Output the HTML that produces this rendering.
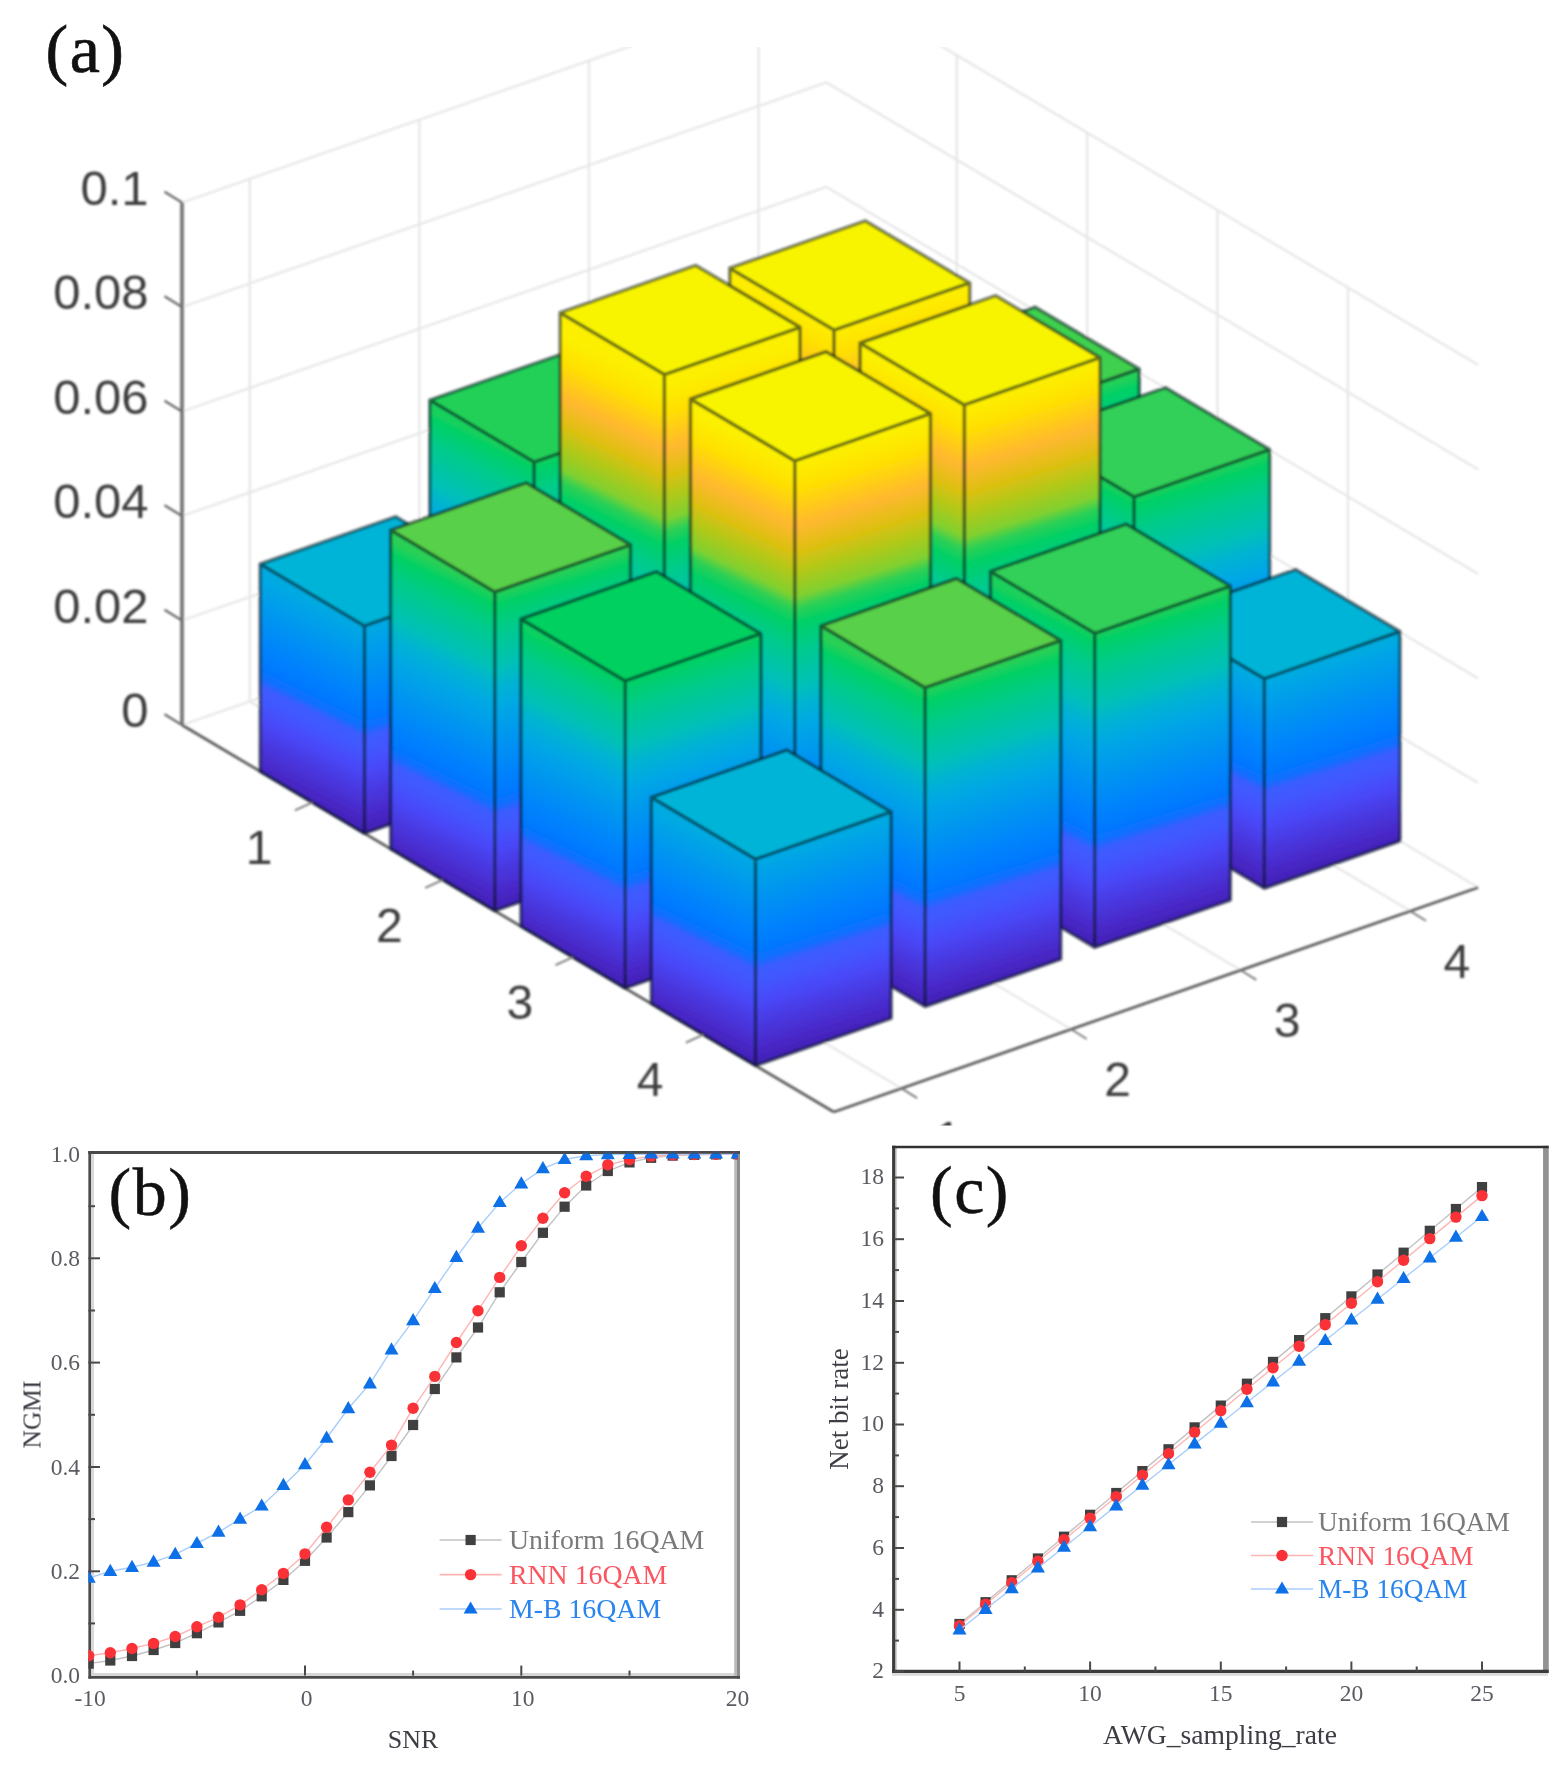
<!DOCTYPE html>
<html lang="en"><head><meta charset="utf-8"><title>Figure</title>
<style>
html,body{margin:0;padding:0;background:#fff}
body{width:1564px;height:1771px;overflow:hidden}
svg{display:block}
</style></head><body>
<svg width="1564" height="1771" viewBox="0 0 1564 1771">
<defs>
<linearGradient id="g1" gradientUnits="userSpaceOnUse" x1="873.3" y1="656.1" x2="955.9" y2="487.5"><stop offset="0%" stop-color="#4120b4"/><stop offset="8.3%" stop-color="#4828c8"/><stop offset="19.2%" stop-color="#4a38e0"/><stop offset="29.8%" stop-color="#4848f8"/><stop offset="40.1%" stop-color="#4258ff"/><stop offset="45.9%" stop-color="#3c5cff"/><stop offset="50.6%" stop-color="#0e70ff"/><stop offset="55.5%" stop-color="#0078ff"/><stop offset="66%" stop-color="#0084fc"/><stop offset="76.5%" stop-color="#0090f4"/><stop offset="86.8%" stop-color="#009cec"/><stop offset="97.1%" stop-color="#00a8e4"/><stop offset="100%" stop-color="#00abde"/></linearGradient>
<linearGradient id="g2" gradientUnits="userSpaceOnUse" x1="873.3" y1="656.1" x2="814.2" y2="465.4"><stop offset="0%" stop-color="#4120b4"/><stop offset="8.3%" stop-color="#4828c8"/><stop offset="19.2%" stop-color="#4a38e0"/><stop offset="29.8%" stop-color="#4848f8"/><stop offset="40.1%" stop-color="#4258ff"/><stop offset="45.9%" stop-color="#3c5cff"/><stop offset="50.6%" stop-color="#0e70ff"/><stop offset="55.5%" stop-color="#0078ff"/><stop offset="66%" stop-color="#0084fc"/><stop offset="76.5%" stop-color="#0090f4"/><stop offset="86.8%" stop-color="#009cec"/><stop offset="97.1%" stop-color="#00a8e4"/><stop offset="100%" stop-color="#00abde"/></linearGradient>
<linearGradient id="g3" gradientUnits="userSpaceOnUse" x1="703.7" y1="715.2" x2="827.6" y2="462.4"><stop offset="0%" stop-color="#4120b4"/><stop offset="5.5%" stop-color="#4828c8"/><stop offset="12.8%" stop-color="#4a38e0"/><stop offset="19.8%" stop-color="#4848f8"/><stop offset="26.7%" stop-color="#4258ff"/><stop offset="30.6%" stop-color="#3c5cff"/><stop offset="33.7%" stop-color="#0e70ff"/><stop offset="37%" stop-color="#0078ff"/><stop offset="44%" stop-color="#0084fc"/><stop offset="51%" stop-color="#0090f4"/><stop offset="57.9%" stop-color="#009cec"/><stop offset="64.7%" stop-color="#00a8e4"/><stop offset="71.7%" stop-color="#00b4d0"/><stop offset="77%" stop-color="#00c0b8"/><stop offset="89.5%" stop-color="#00cb8a"/><stop offset="97.7%" stop-color="#04d064"/><stop offset="100%" stop-color="#1bd05c"/></linearGradient>
<linearGradient id="g4" gradientUnits="userSpaceOnUse" x1="703.7" y1="715.2" x2="615" y2="429.1"><stop offset="0%" stop-color="#4120b4"/><stop offset="5.5%" stop-color="#4828c8"/><stop offset="12.8%" stop-color="#4a38e0"/><stop offset="19.8%" stop-color="#4848f8"/><stop offset="26.7%" stop-color="#4258ff"/><stop offset="30.6%" stop-color="#3c5cff"/><stop offset="33.7%" stop-color="#0e70ff"/><stop offset="37%" stop-color="#0078ff"/><stop offset="44%" stop-color="#0084fc"/><stop offset="51%" stop-color="#0090f4"/><stop offset="57.9%" stop-color="#009cec"/><stop offset="64.7%" stop-color="#00a8e4"/><stop offset="71.7%" stop-color="#00b4d0"/><stop offset="77%" stop-color="#00c0b8"/><stop offset="89.5%" stop-color="#00cb8a"/><stop offset="97.7%" stop-color="#04d064"/><stop offset="100%" stop-color="#1bd05c"/></linearGradient>
<linearGradient id="g5" gradientUnits="userSpaceOnUse" x1="534.1" y1="774.3" x2="657.4" y2="522.5"><stop offset="0%" stop-color="#4120b4"/><stop offset="5.5%" stop-color="#4828c8"/><stop offset="12.9%" stop-color="#4a38e0"/><stop offset="19.9%" stop-color="#4848f8"/><stop offset="26.8%" stop-color="#4258ff"/><stop offset="30.7%" stop-color="#3c5cff"/><stop offset="33.9%" stop-color="#0e70ff"/><stop offset="37.1%" stop-color="#0078ff"/><stop offset="44.2%" stop-color="#0084fc"/><stop offset="51.2%" stop-color="#0090f4"/><stop offset="58.1%" stop-color="#009cec"/><stop offset="65%" stop-color="#00a8e4"/><stop offset="72%" stop-color="#00b4d0"/><stop offset="77.3%" stop-color="#00c0b8"/><stop offset="89.9%" stop-color="#00cb8a"/><stop offset="98.1%" stop-color="#04d064"/><stop offset="100%" stop-color="#16d05d"/></linearGradient>
<linearGradient id="g6" gradientUnits="userSpaceOnUse" x1="534.1" y1="774.3" x2="445.8" y2="489.4"><stop offset="0%" stop-color="#4120b4"/><stop offset="5.5%" stop-color="#4828c8"/><stop offset="12.9%" stop-color="#4a38e0"/><stop offset="19.9%" stop-color="#4848f8"/><stop offset="26.8%" stop-color="#4258ff"/><stop offset="30.7%" stop-color="#3c5cff"/><stop offset="33.9%" stop-color="#0e70ff"/><stop offset="37.1%" stop-color="#0078ff"/><stop offset="44.2%" stop-color="#0084fc"/><stop offset="51.2%" stop-color="#0090f4"/><stop offset="58.1%" stop-color="#009cec"/><stop offset="65%" stop-color="#00a8e4"/><stop offset="72%" stop-color="#00b4d0"/><stop offset="77.3%" stop-color="#00c0b8"/><stop offset="89.9%" stop-color="#00cb8a"/><stop offset="98.1%" stop-color="#04d064"/><stop offset="100%" stop-color="#16d05d"/></linearGradient>
<linearGradient id="g7" gradientUnits="userSpaceOnUse" x1="364.5" y1="833.4" x2="446.5" y2="666.1"><stop offset="0%" stop-color="#4120b4"/><stop offset="8.3%" stop-color="#4828c8"/><stop offset="19.4%" stop-color="#4a38e0"/><stop offset="30%" stop-color="#4848f8"/><stop offset="40.4%" stop-color="#4258ff"/><stop offset="46.2%" stop-color="#3c5cff"/><stop offset="50.9%" stop-color="#0e70ff"/><stop offset="55.9%" stop-color="#0078ff"/><stop offset="66.5%" stop-color="#0084fc"/><stop offset="77.1%" stop-color="#0090f4"/><stop offset="87.5%" stop-color="#009cec"/><stop offset="97.8%" stop-color="#00a8e4"/><stop offset="100%" stop-color="#00aae0"/></linearGradient>
<linearGradient id="g8" gradientUnits="userSpaceOnUse" x1="364.5" y1="833.4" x2="305.8" y2="644.1"><stop offset="0%" stop-color="#4120b4"/><stop offset="8.3%" stop-color="#4828c8"/><stop offset="19.4%" stop-color="#4a38e0"/><stop offset="30%" stop-color="#4848f8"/><stop offset="40.4%" stop-color="#4258ff"/><stop offset="46.2%" stop-color="#3c5cff"/><stop offset="50.9%" stop-color="#0e70ff"/><stop offset="55.9%" stop-color="#0078ff"/><stop offset="66.5%" stop-color="#0084fc"/><stop offset="77.1%" stop-color="#0090f4"/><stop offset="87.5%" stop-color="#009cec"/><stop offset="97.8%" stop-color="#00a8e4"/><stop offset="100%" stop-color="#00aae0"/></linearGradient>
<linearGradient id="g9" gradientUnits="userSpaceOnUse" x1="1003.6" y1="733.5" x2="1129" y2="477.7"><stop offset="0%" stop-color="#4120b4"/><stop offset="5.5%" stop-color="#4828c8"/><stop offset="12.7%" stop-color="#4a38e0"/><stop offset="19.6%" stop-color="#4848f8"/><stop offset="26.4%" stop-color="#4258ff"/><stop offset="30.2%" stop-color="#3c5cff"/><stop offset="33.3%" stop-color="#0e70ff"/><stop offset="36.6%" stop-color="#0078ff"/><stop offset="43.5%" stop-color="#0084fc"/><stop offset="50.4%" stop-color="#0090f4"/><stop offset="57.2%" stop-color="#009cec"/><stop offset="64%" stop-color="#00a8e4"/><stop offset="70.9%" stop-color="#00b4d0"/><stop offset="76.1%" stop-color="#00c0b8"/><stop offset="88.5%" stop-color="#00cb8a"/><stop offset="96.6%" stop-color="#04d064"/><stop offset="100%" stop-color="#26d058"/></linearGradient>
<linearGradient id="g10" gradientUnits="userSpaceOnUse" x1="1003.6" y1="733.5" x2="913.9" y2="444.1"><stop offset="0%" stop-color="#4120b4"/><stop offset="5.5%" stop-color="#4828c8"/><stop offset="12.7%" stop-color="#4a38e0"/><stop offset="19.6%" stop-color="#4848f8"/><stop offset="26.4%" stop-color="#4258ff"/><stop offset="30.2%" stop-color="#3c5cff"/><stop offset="33.3%" stop-color="#0e70ff"/><stop offset="36.6%" stop-color="#0078ff"/><stop offset="43.5%" stop-color="#0084fc"/><stop offset="50.4%" stop-color="#0090f4"/><stop offset="57.2%" stop-color="#009cec"/><stop offset="64%" stop-color="#00a8e4"/><stop offset="70.9%" stop-color="#00b4d0"/><stop offset="76.1%" stop-color="#00c0b8"/><stop offset="88.5%" stop-color="#00cb8a"/><stop offset="96.6%" stop-color="#04d064"/><stop offset="100%" stop-color="#26d058"/></linearGradient>
<linearGradient id="g11" gradientUnits="userSpaceOnUse" x1="834" y1="792.6" x2="1016.8" y2="419.7"><stop offset="0%" stop-color="#4120b4"/><stop offset="3.7%" stop-color="#4828c8"/><stop offset="8.7%" stop-color="#4a38e0"/><stop offset="13.5%" stop-color="#4848f8"/><stop offset="18.1%" stop-color="#4258ff"/><stop offset="20.7%" stop-color="#3c5cff"/><stop offset="22.9%" stop-color="#0e70ff"/><stop offset="25.1%" stop-color="#0078ff"/><stop offset="29.8%" stop-color="#0084fc"/><stop offset="34.6%" stop-color="#0090f4"/><stop offset="39.2%" stop-color="#009cec"/><stop offset="43.9%" stop-color="#00a8e4"/><stop offset="48.6%" stop-color="#00b4d0"/><stop offset="52.2%" stop-color="#00c0b8"/><stop offset="60.7%" stop-color="#00cb8a"/><stop offset="66.2%" stop-color="#04d064"/><stop offset="69.3%" stop-color="#30d054"/><stop offset="71.8%" stop-color="#80d030"/><stop offset="77.2%" stop-color="#b4c818"/><stop offset="81.3%" stop-color="#dcc010"/><stop offset="87.1%" stop-color="#ffb830"/><stop offset="95.1%" stop-color="#ffe000"/><stop offset="100%" stop-color="#fded00"/></linearGradient>
<linearGradient id="g12" gradientUnits="userSpaceOnUse" x1="834" y1="792.6" x2="703.3" y2="370.7"><stop offset="0%" stop-color="#4120b4"/><stop offset="3.7%" stop-color="#4828c8"/><stop offset="8.7%" stop-color="#4a38e0"/><stop offset="13.5%" stop-color="#4848f8"/><stop offset="18.1%" stop-color="#4258ff"/><stop offset="20.7%" stop-color="#3c5cff"/><stop offset="22.9%" stop-color="#0e70ff"/><stop offset="25.1%" stop-color="#0078ff"/><stop offset="29.8%" stop-color="#0084fc"/><stop offset="34.6%" stop-color="#0090f4"/><stop offset="39.2%" stop-color="#009cec"/><stop offset="43.9%" stop-color="#00a8e4"/><stop offset="48.6%" stop-color="#00b4d0"/><stop offset="52.2%" stop-color="#00c0b8"/><stop offset="60.7%" stop-color="#00cb8a"/><stop offset="66.2%" stop-color="#04d064"/><stop offset="69.3%" stop-color="#30d054"/><stop offset="71.8%" stop-color="#80d030"/><stop offset="77.2%" stop-color="#b4c818"/><stop offset="81.3%" stop-color="#dcc010"/><stop offset="87.1%" stop-color="#ffb830"/><stop offset="95.1%" stop-color="#ffe000"/><stop offset="100%" stop-color="#fded00"/></linearGradient>
<linearGradient id="g13" gradientUnits="userSpaceOnUse" x1="664.4" y1="851.7" x2="852.9" y2="467"><stop offset="0%" stop-color="#4120b4"/><stop offset="3.6%" stop-color="#4828c8"/><stop offset="8.4%" stop-color="#4a38e0"/><stop offset="13%" stop-color="#4848f8"/><stop offset="17.5%" stop-color="#4258ff"/><stop offset="20.1%" stop-color="#3c5cff"/><stop offset="22.2%" stop-color="#0e70ff"/><stop offset="24.3%" stop-color="#0078ff"/><stop offset="28.9%" stop-color="#0084fc"/><stop offset="33.5%" stop-color="#0090f4"/><stop offset="38%" stop-color="#009cec"/><stop offset="42.5%" stop-color="#00a8e4"/><stop offset="47.2%" stop-color="#00b4d0"/><stop offset="50.6%" stop-color="#00c0b8"/><stop offset="58.8%" stop-color="#00cb8a"/><stop offset="64.2%" stop-color="#04d064"/><stop offset="67.1%" stop-color="#30d054"/><stop offset="69.6%" stop-color="#80d030"/><stop offset="74.8%" stop-color="#b4c818"/><stop offset="78.8%" stop-color="#dcc010"/><stop offset="84.4%" stop-color="#ffb830"/><stop offset="92.1%" stop-color="#ffe000"/><stop offset="98%" stop-color="#fcf000"/><stop offset="100%" stop-color="#fcf000"/></linearGradient>
<linearGradient id="g14" gradientUnits="userSpaceOnUse" x1="664.4" y1="851.7" x2="529.5" y2="416.4"><stop offset="0%" stop-color="#4120b4"/><stop offset="3.6%" stop-color="#4828c8"/><stop offset="8.4%" stop-color="#4a38e0"/><stop offset="13%" stop-color="#4848f8"/><stop offset="17.5%" stop-color="#4258ff"/><stop offset="20.1%" stop-color="#3c5cff"/><stop offset="22.2%" stop-color="#0e70ff"/><stop offset="24.3%" stop-color="#0078ff"/><stop offset="28.9%" stop-color="#0084fc"/><stop offset="33.5%" stop-color="#0090f4"/><stop offset="38%" stop-color="#009cec"/><stop offset="42.5%" stop-color="#00a8e4"/><stop offset="47.2%" stop-color="#00b4d0"/><stop offset="50.6%" stop-color="#00c0b8"/><stop offset="58.8%" stop-color="#00cb8a"/><stop offset="64.2%" stop-color="#04d064"/><stop offset="67.1%" stop-color="#30d054"/><stop offset="69.6%" stop-color="#80d030"/><stop offset="74.8%" stop-color="#b4c818"/><stop offset="78.8%" stop-color="#dcc010"/><stop offset="84.4%" stop-color="#ffb830"/><stop offset="92.1%" stop-color="#ffe000"/><stop offset="98%" stop-color="#fcf000"/><stop offset="100%" stop-color="#fcf000"/></linearGradient>
<linearGradient id="g15" gradientUnits="userSpaceOnUse" x1="494.8" y1="910.8" x2="620.8" y2="653.7"><stop offset="0%" stop-color="#4120b4"/><stop offset="5.4%" stop-color="#4828c8"/><stop offset="12.6%" stop-color="#4a38e0"/><stop offset="19.5%" stop-color="#4848f8"/><stop offset="26.3%" stop-color="#4258ff"/><stop offset="30.1%" stop-color="#3c5cff"/><stop offset="33.2%" stop-color="#0e70ff"/><stop offset="36.4%" stop-color="#0078ff"/><stop offset="43.3%" stop-color="#0084fc"/><stop offset="50.2%" stop-color="#0090f4"/><stop offset="56.9%" stop-color="#009cec"/><stop offset="63.7%" stop-color="#00a8e4"/><stop offset="70.6%" stop-color="#00b4d0"/><stop offset="75.7%" stop-color="#00c0b8"/><stop offset="88%" stop-color="#00cb8a"/><stop offset="96.1%" stop-color="#04d064"/><stop offset="100%" stop-color="#2bd056"/></linearGradient>
<linearGradient id="g16" gradientUnits="userSpaceOnUse" x1="494.8" y1="910.8" x2="404.7" y2="620"><stop offset="0%" stop-color="#4120b4"/><stop offset="5.4%" stop-color="#4828c8"/><stop offset="12.6%" stop-color="#4a38e0"/><stop offset="19.5%" stop-color="#4848f8"/><stop offset="26.3%" stop-color="#4258ff"/><stop offset="30.1%" stop-color="#3c5cff"/><stop offset="33.2%" stop-color="#0e70ff"/><stop offset="36.4%" stop-color="#0078ff"/><stop offset="43.3%" stop-color="#0084fc"/><stop offset="50.2%" stop-color="#0090f4"/><stop offset="56.9%" stop-color="#009cec"/><stop offset="63.7%" stop-color="#00a8e4"/><stop offset="70.6%" stop-color="#00b4d0"/><stop offset="75.7%" stop-color="#00c0b8"/><stop offset="88%" stop-color="#00cb8a"/><stop offset="96.1%" stop-color="#04d064"/><stop offset="100%" stop-color="#2bd056"/></linearGradient>
<linearGradient id="g17" gradientUnits="userSpaceOnUse" x1="1134" y1="810.9" x2="1258.1" y2="557.6"><stop offset="0%" stop-color="#4120b4"/><stop offset="5.5%" stop-color="#4828c8"/><stop offset="12.8%" stop-color="#4a38e0"/><stop offset="19.8%" stop-color="#4848f8"/><stop offset="26.7%" stop-color="#4258ff"/><stop offset="30.5%" stop-color="#3c5cff"/><stop offset="33.7%" stop-color="#0e70ff"/><stop offset="36.9%" stop-color="#0078ff"/><stop offset="43.9%" stop-color="#0084fc"/><stop offset="50.9%" stop-color="#0090f4"/><stop offset="57.8%" stop-color="#009cec"/><stop offset="64.6%" stop-color="#00a8e4"/><stop offset="71.6%" stop-color="#00b4d0"/><stop offset="76.8%" stop-color="#00c0b8"/><stop offset="89.4%" stop-color="#00cb8a"/><stop offset="97.5%" stop-color="#04d064"/><stop offset="100%" stop-color="#1cd05b"/></linearGradient>
<linearGradient id="g18" gradientUnits="userSpaceOnUse" x1="1134" y1="810.9" x2="1045.2" y2="524.4"><stop offset="0%" stop-color="#4120b4"/><stop offset="5.5%" stop-color="#4828c8"/><stop offset="12.8%" stop-color="#4a38e0"/><stop offset="19.8%" stop-color="#4848f8"/><stop offset="26.7%" stop-color="#4258ff"/><stop offset="30.5%" stop-color="#3c5cff"/><stop offset="33.7%" stop-color="#0e70ff"/><stop offset="36.9%" stop-color="#0078ff"/><stop offset="43.9%" stop-color="#0084fc"/><stop offset="50.9%" stop-color="#0090f4"/><stop offset="57.8%" stop-color="#009cec"/><stop offset="64.6%" stop-color="#00a8e4"/><stop offset="71.6%" stop-color="#00b4d0"/><stop offset="76.8%" stop-color="#00c0b8"/><stop offset="89.4%" stop-color="#00cb8a"/><stop offset="97.5%" stop-color="#04d064"/><stop offset="100%" stop-color="#1cd05b"/></linearGradient>
<linearGradient id="g19" gradientUnits="userSpaceOnUse" x1="964.4" y1="870" x2="1148.1" y2="495"><stop offset="0%" stop-color="#4120b4"/><stop offset="3.7%" stop-color="#4828c8"/><stop offset="8.6%" stop-color="#4a38e0"/><stop offset="13.4%" stop-color="#4848f8"/><stop offset="18%" stop-color="#4258ff"/><stop offset="20.6%" stop-color="#3c5cff"/><stop offset="22.7%" stop-color="#0e70ff"/><stop offset="24.9%" stop-color="#0078ff"/><stop offset="29.7%" stop-color="#0084fc"/><stop offset="34.4%" stop-color="#0090f4"/><stop offset="39%" stop-color="#009cec"/><stop offset="43.6%" stop-color="#00a8e4"/><stop offset="48.4%" stop-color="#00b4d0"/><stop offset="51.9%" stop-color="#00c0b8"/><stop offset="60.3%" stop-color="#00cb8a"/><stop offset="65.9%" stop-color="#04d064"/><stop offset="68.9%" stop-color="#30d054"/><stop offset="71.4%" stop-color="#80d030"/><stop offset="76.7%" stop-color="#b4c818"/><stop offset="80.9%" stop-color="#dcc010"/><stop offset="86.6%" stop-color="#ffb830"/><stop offset="94.5%" stop-color="#ffe000"/><stop offset="100%" stop-color="#fcef00"/></linearGradient>
<linearGradient id="g20" gradientUnits="userSpaceOnUse" x1="964.4" y1="870" x2="832.9" y2="445.7"><stop offset="0%" stop-color="#4120b4"/><stop offset="3.7%" stop-color="#4828c8"/><stop offset="8.6%" stop-color="#4a38e0"/><stop offset="13.4%" stop-color="#4848f8"/><stop offset="18%" stop-color="#4258ff"/><stop offset="20.6%" stop-color="#3c5cff"/><stop offset="22.7%" stop-color="#0e70ff"/><stop offset="24.9%" stop-color="#0078ff"/><stop offset="29.7%" stop-color="#0084fc"/><stop offset="34.4%" stop-color="#0090f4"/><stop offset="39%" stop-color="#009cec"/><stop offset="43.6%" stop-color="#00a8e4"/><stop offset="48.4%" stop-color="#00b4d0"/><stop offset="51.9%" stop-color="#00c0b8"/><stop offset="60.3%" stop-color="#00cb8a"/><stop offset="65.9%" stop-color="#04d064"/><stop offset="68.9%" stop-color="#30d054"/><stop offset="71.4%" stop-color="#80d030"/><stop offset="76.7%" stop-color="#b4c818"/><stop offset="80.9%" stop-color="#dcc010"/><stop offset="86.6%" stop-color="#ffb830"/><stop offset="94.5%" stop-color="#ffe000"/><stop offset="100%" stop-color="#fcef00"/></linearGradient>
<linearGradient id="g21" gradientUnits="userSpaceOnUse" x1="794.8" y1="929.1" x2="979.8" y2="551.5"><stop offset="0%" stop-color="#4120b4"/><stop offset="3.7%" stop-color="#4828c8"/><stop offset="8.6%" stop-color="#4a38e0"/><stop offset="13.3%" stop-color="#4848f8"/><stop offset="17.9%" stop-color="#4258ff"/><stop offset="20.5%" stop-color="#3c5cff"/><stop offset="22.6%" stop-color="#0e70ff"/><stop offset="24.8%" stop-color="#0078ff"/><stop offset="29.5%" stop-color="#0084fc"/><stop offset="34.2%" stop-color="#0090f4"/><stop offset="38.8%" stop-color="#009cec"/><stop offset="43.4%" stop-color="#00a8e4"/><stop offset="48%" stop-color="#00b4d0"/><stop offset="51.5%" stop-color="#00c0b8"/><stop offset="59.9%" stop-color="#00cb8a"/><stop offset="65.4%" stop-color="#04d064"/><stop offset="68.4%" stop-color="#30d054"/><stop offset="70.9%" stop-color="#80d030"/><stop offset="76.2%" stop-color="#b4c818"/><stop offset="80.3%" stop-color="#dcc010"/><stop offset="86%" stop-color="#ffb830"/><stop offset="93.9%" stop-color="#ffe000"/><stop offset="99.9%" stop-color="#fcf000"/><stop offset="100%" stop-color="#fcf000"/></linearGradient>
<linearGradient id="g22" gradientUnits="userSpaceOnUse" x1="794.8" y1="929.1" x2="662.4" y2="501.9"><stop offset="0%" stop-color="#4120b4"/><stop offset="3.7%" stop-color="#4828c8"/><stop offset="8.6%" stop-color="#4a38e0"/><stop offset="13.3%" stop-color="#4848f8"/><stop offset="17.9%" stop-color="#4258ff"/><stop offset="20.5%" stop-color="#3c5cff"/><stop offset="22.6%" stop-color="#0e70ff"/><stop offset="24.8%" stop-color="#0078ff"/><stop offset="29.5%" stop-color="#0084fc"/><stop offset="34.2%" stop-color="#0090f4"/><stop offset="38.8%" stop-color="#009cec"/><stop offset="43.4%" stop-color="#00a8e4"/><stop offset="48%" stop-color="#00b4d0"/><stop offset="51.5%" stop-color="#00c0b8"/><stop offset="59.9%" stop-color="#00cb8a"/><stop offset="65.4%" stop-color="#04d064"/><stop offset="68.4%" stop-color="#30d054"/><stop offset="70.9%" stop-color="#80d030"/><stop offset="76.2%" stop-color="#b4c818"/><stop offset="80.3%" stop-color="#dcc010"/><stop offset="86%" stop-color="#ffb830"/><stop offset="93.9%" stop-color="#ffe000"/><stop offset="99.9%" stop-color="#fcf000"/><stop offset="100%" stop-color="#fcf000"/></linearGradient>
<linearGradient id="g23" gradientUnits="userSpaceOnUse" x1="625.2" y1="988.2" x2="746.6" y2="740.4"><stop offset="0%" stop-color="#4120b4"/><stop offset="5.6%" stop-color="#4828c8"/><stop offset="13.1%" stop-color="#4a38e0"/><stop offset="20.2%" stop-color="#4848f8"/><stop offset="27.2%" stop-color="#4258ff"/><stop offset="31.2%" stop-color="#3c5cff"/><stop offset="34.4%" stop-color="#0e70ff"/><stop offset="37.7%" stop-color="#0078ff"/><stop offset="44.9%" stop-color="#0084fc"/><stop offset="52.1%" stop-color="#0090f4"/><stop offset="59.1%" stop-color="#009cec"/><stop offset="66.1%" stop-color="#00a8e4"/><stop offset="73.2%" stop-color="#00b4d0"/><stop offset="78.5%" stop-color="#00c0b8"/><stop offset="91.3%" stop-color="#00cb8a"/><stop offset="99.7%" stop-color="#04d064"/><stop offset="100%" stop-color="#07d063"/></linearGradient>
<linearGradient id="g24" gradientUnits="userSpaceOnUse" x1="625.2" y1="988.2" x2="538.3" y2="707.9"><stop offset="0%" stop-color="#4120b4"/><stop offset="5.6%" stop-color="#4828c8"/><stop offset="13.1%" stop-color="#4a38e0"/><stop offset="20.2%" stop-color="#4848f8"/><stop offset="27.2%" stop-color="#4258ff"/><stop offset="31.2%" stop-color="#3c5cff"/><stop offset="34.4%" stop-color="#0e70ff"/><stop offset="37.7%" stop-color="#0078ff"/><stop offset="44.9%" stop-color="#0084fc"/><stop offset="52.1%" stop-color="#0090f4"/><stop offset="59.1%" stop-color="#009cec"/><stop offset="66.1%" stop-color="#00a8e4"/><stop offset="73.2%" stop-color="#00b4d0"/><stop offset="78.5%" stop-color="#00c0b8"/><stop offset="91.3%" stop-color="#00cb8a"/><stop offset="99.7%" stop-color="#04d064"/><stop offset="100%" stop-color="#07d063"/></linearGradient>
<linearGradient id="g25" gradientUnits="userSpaceOnUse" x1="1264.3" y1="888.3" x2="1347.1" y2="719.3"><stop offset="0%" stop-color="#4120b4"/><stop offset="8.3%" stop-color="#4828c8"/><stop offset="19.2%" stop-color="#4a38e0"/><stop offset="29.7%" stop-color="#4848f8"/><stop offset="40%" stop-color="#4258ff"/><stop offset="45.8%" stop-color="#3c5cff"/><stop offset="50.4%" stop-color="#0e70ff"/><stop offset="55.4%" stop-color="#0078ff"/><stop offset="65.8%" stop-color="#0084fc"/><stop offset="76.3%" stop-color="#0090f4"/><stop offset="86.6%" stop-color="#009cec"/><stop offset="96.9%" stop-color="#00a8e4"/><stop offset="100%" stop-color="#00acde"/></linearGradient>
<linearGradient id="g26" gradientUnits="userSpaceOnUse" x1="1264.3" y1="888.3" x2="1205.1" y2="697.1"><stop offset="0%" stop-color="#4120b4"/><stop offset="8.3%" stop-color="#4828c8"/><stop offset="19.2%" stop-color="#4a38e0"/><stop offset="29.7%" stop-color="#4848f8"/><stop offset="40%" stop-color="#4258ff"/><stop offset="45.8%" stop-color="#3c5cff"/><stop offset="50.4%" stop-color="#0e70ff"/><stop offset="55.4%" stop-color="#0078ff"/><stop offset="65.8%" stop-color="#0084fc"/><stop offset="76.3%" stop-color="#0090f4"/><stop offset="86.6%" stop-color="#009cec"/><stop offset="96.9%" stop-color="#00a8e4"/><stop offset="100%" stop-color="#00acde"/></linearGradient>
<linearGradient id="g27" gradientUnits="userSpaceOnUse" x1="1094.7" y1="947.4" x2="1218.8" y2="694.1"><stop offset="0%" stop-color="#4120b4"/><stop offset="5.5%" stop-color="#4828c8"/><stop offset="12.8%" stop-color="#4a38e0"/><stop offset="19.8%" stop-color="#4848f8"/><stop offset="26.7%" stop-color="#4258ff"/><stop offset="30.5%" stop-color="#3c5cff"/><stop offset="33.7%" stop-color="#0e70ff"/><stop offset="36.9%" stop-color="#0078ff"/><stop offset="43.9%" stop-color="#0084fc"/><stop offset="50.9%" stop-color="#0090f4"/><stop offset="57.8%" stop-color="#009cec"/><stop offset="64.6%" stop-color="#00a8e4"/><stop offset="71.6%" stop-color="#00b4d0"/><stop offset="76.8%" stop-color="#00c0b8"/><stop offset="89.4%" stop-color="#00cb8a"/><stop offset="97.5%" stop-color="#04d064"/><stop offset="100%" stop-color="#1cd05b"/></linearGradient>
<linearGradient id="g28" gradientUnits="userSpaceOnUse" x1="1094.7" y1="947.4" x2="1005.9" y2="660.9"><stop offset="0%" stop-color="#4120b4"/><stop offset="5.5%" stop-color="#4828c8"/><stop offset="12.8%" stop-color="#4a38e0"/><stop offset="19.8%" stop-color="#4848f8"/><stop offset="26.7%" stop-color="#4258ff"/><stop offset="30.5%" stop-color="#3c5cff"/><stop offset="33.7%" stop-color="#0e70ff"/><stop offset="36.9%" stop-color="#0078ff"/><stop offset="43.9%" stop-color="#0084fc"/><stop offset="50.9%" stop-color="#0090f4"/><stop offset="57.8%" stop-color="#009cec"/><stop offset="64.6%" stop-color="#00a8e4"/><stop offset="71.6%" stop-color="#00b4d0"/><stop offset="76.8%" stop-color="#00c0b8"/><stop offset="89.4%" stop-color="#00cb8a"/><stop offset="97.5%" stop-color="#04d064"/><stop offset="100%" stop-color="#1cd05b"/></linearGradient>
<linearGradient id="g29" gradientUnits="userSpaceOnUse" x1="925.1" y1="1006.5" x2="1051.1" y2="749.4"><stop offset="0%" stop-color="#4120b4"/><stop offset="5.4%" stop-color="#4828c8"/><stop offset="12.6%" stop-color="#4a38e0"/><stop offset="19.5%" stop-color="#4848f8"/><stop offset="26.3%" stop-color="#4258ff"/><stop offset="30.1%" stop-color="#3c5cff"/><stop offset="33.2%" stop-color="#0e70ff"/><stop offset="36.4%" stop-color="#0078ff"/><stop offset="43.3%" stop-color="#0084fc"/><stop offset="50.2%" stop-color="#0090f4"/><stop offset="56.9%" stop-color="#009cec"/><stop offset="63.7%" stop-color="#00a8e4"/><stop offset="70.6%" stop-color="#00b4d0"/><stop offset="75.7%" stop-color="#00c0b8"/><stop offset="88%" stop-color="#00cb8a"/><stop offset="96.1%" stop-color="#04d064"/><stop offset="100%" stop-color="#2bd056"/></linearGradient>
<linearGradient id="g30" gradientUnits="userSpaceOnUse" x1="925.1" y1="1006.5" x2="835" y2="715.7"><stop offset="0%" stop-color="#4120b4"/><stop offset="5.4%" stop-color="#4828c8"/><stop offset="12.6%" stop-color="#4a38e0"/><stop offset="19.5%" stop-color="#4848f8"/><stop offset="26.3%" stop-color="#4258ff"/><stop offset="30.1%" stop-color="#3c5cff"/><stop offset="33.2%" stop-color="#0e70ff"/><stop offset="36.4%" stop-color="#0078ff"/><stop offset="43.3%" stop-color="#0084fc"/><stop offset="50.2%" stop-color="#0090f4"/><stop offset="56.9%" stop-color="#009cec"/><stop offset="63.7%" stop-color="#00a8e4"/><stop offset="70.6%" stop-color="#00b4d0"/><stop offset="75.7%" stop-color="#00c0b8"/><stop offset="88%" stop-color="#00cb8a"/><stop offset="96.1%" stop-color="#04d064"/><stop offset="100%" stop-color="#2bd056"/></linearGradient>
<linearGradient id="g31" gradientUnits="userSpaceOnUse" x1="755.5" y1="1065.6" x2="837.1" y2="899.1"><stop offset="0%" stop-color="#4120b4"/><stop offset="8.4%" stop-color="#4828c8"/><stop offset="19.5%" stop-color="#4a38e0"/><stop offset="30.1%" stop-color="#4848f8"/><stop offset="40.6%" stop-color="#4258ff"/><stop offset="46.4%" stop-color="#3c5cff"/><stop offset="51.2%" stop-color="#0e70ff"/><stop offset="56.2%" stop-color="#0078ff"/><stop offset="66.8%" stop-color="#0084fc"/><stop offset="77.5%" stop-color="#0090f4"/><stop offset="87.9%" stop-color="#009cec"/><stop offset="98.3%" stop-color="#00a8e4"/><stop offset="100%" stop-color="#00aae1"/></linearGradient>
<linearGradient id="g32" gradientUnits="userSpaceOnUse" x1="755.5" y1="1065.6" x2="697.2" y2="877.3"><stop offset="0%" stop-color="#4120b4"/><stop offset="8.4%" stop-color="#4828c8"/><stop offset="19.5%" stop-color="#4a38e0"/><stop offset="30.1%" stop-color="#4848f8"/><stop offset="40.6%" stop-color="#4258ff"/><stop offset="46.4%" stop-color="#3c5cff"/><stop offset="51.2%" stop-color="#0e70ff"/><stop offset="56.2%" stop-color="#0078ff"/><stop offset="66.8%" stop-color="#0084fc"/><stop offset="77.5%" stop-color="#0090f4"/><stop offset="87.9%" stop-color="#009cec"/><stop offset="98.3%" stop-color="#00a8e4"/><stop offset="100%" stop-color="#00aae1"/></linearGradient>
<filter id="bl" x="-2%" y="-2%" width="104%" height="104%"><feGaussianBlur stdDeviation="0.9"/></filter>
<filter id="bl2" x="-2%" y="-2%" width="104%" height="104%"><feGaussianBlur stdDeviation="0.75"/></filter>
</defs>
<clipPath id="ca"><rect x="0" y="47" width="1564" height="1078.6"/></clipPath>
<g clip-path="url(#ca)"><g filter="url(#bl)">
<line x1="182" y1="725" x2="826.5" y2="500.4" stroke="#e7e7e7" stroke-width="2.3" />
<line x1="826.5" y1="500.4" x2="1478.2" y2="887.4" stroke="#e7e7e7" stroke-width="2.3" />
<line x1="182" y1="620.5" x2="826.5" y2="395.9" stroke="#e7e7e7" stroke-width="2.3" />
<line x1="826.5" y1="395.9" x2="1478.2" y2="782.9" stroke="#e7e7e7" stroke-width="2.3" />
<line x1="182" y1="516" x2="826.5" y2="291.4" stroke="#e7e7e7" stroke-width="2.3" />
<line x1="826.5" y1="291.4" x2="1478.2" y2="678.4" stroke="#e7e7e7" stroke-width="2.3" />
<line x1="182" y1="411.5" x2="826.5" y2="186.9" stroke="#e7e7e7" stroke-width="2.3" />
<line x1="826.5" y1="186.9" x2="1478.2" y2="573.9" stroke="#e7e7e7" stroke-width="2.3" />
<line x1="182" y1="307" x2="826.5" y2="82.4" stroke="#e7e7e7" stroke-width="2.3" />
<line x1="826.5" y1="82.4" x2="1478.2" y2="469.4" stroke="#e7e7e7" stroke-width="2.3" />
<line x1="182" y1="202.5" x2="826.5" y2="-22.1" stroke="#e7e7e7" stroke-width="2.3" />
<line x1="826.5" y1="-22.1" x2="1478.2" y2="364.9" stroke="#e7e7e7" stroke-width="2.3" />
<line x1="249.8" y1="701.4" x2="249.8" y2="178.9" stroke="#e7e7e7" stroke-width="2.3" />
<line x1="249.8" y1="701.4" x2="901.6" y2="1088.4" stroke="#e7e7e7" stroke-width="2.3" />
<line x1="419.4" y1="642.3" x2="419.4" y2="119.8" stroke="#e7e7e7" stroke-width="2.3" />
<line x1="419.4" y1="642.3" x2="1071.2" y2="1029.3" stroke="#e7e7e7" stroke-width="2.3" />
<line x1="589" y1="583.2" x2="589" y2="60.7" stroke="#e7e7e7" stroke-width="2.3" />
<line x1="589" y1="583.2" x2="1240.8" y2="970.2" stroke="#e7e7e7" stroke-width="2.3" />
<line x1="758.6" y1="524.1" x2="758.6" y2="1.6" stroke="#e7e7e7" stroke-width="2.3" />
<line x1="758.6" y1="524.1" x2="1410.4" y2="911.1" stroke="#e7e7e7" stroke-width="2.3" />
<line x1="956.8" y1="577.8" x2="956.8" y2="55.3" stroke="#e7e7e7" stroke-width="2.3" />
<line x1="312.4" y1="802.4" x2="956.8" y2="577.8" stroke="#e7e7e7" stroke-width="2.3" />
<line x1="1087.2" y1="655.2" x2="1087.2" y2="132.7" stroke="#e7e7e7" stroke-width="2.3" />
<line x1="442.7" y1="879.8" x2="1087.2" y2="655.2" stroke="#e7e7e7" stroke-width="2.3" />
<line x1="1217.5" y1="732.6" x2="1217.5" y2="210.1" stroke="#e7e7e7" stroke-width="2.3" />
<line x1="573" y1="957.2" x2="1217.5" y2="732.6" stroke="#e7e7e7" stroke-width="2.3" />
<line x1="1347.9" y1="810" x2="1347.9" y2="287.5" stroke="#e7e7e7" stroke-width="2.3" />
<line x1="703.4" y1="1034.6" x2="1347.9" y2="810" stroke="#e7e7e7" stroke-width="2.3" />
<line x1="182" y1="725" x2="182" y2="202.5" stroke="#7c7c7c" stroke-width="4" />
<line x1="182" y1="725" x2="833.8" y2="1112" stroke="#5e5e5e" stroke-width="2.8" />
<line x1="833.8" y1="1112" x2="1478.2" y2="887.4" stroke="#5e5e5e" stroke-width="2.7" />
<polygon points="769,594.1 873.3,656.1 873.3,447.1 769,385.1" fill="url(#g1)" stroke="url(#g1)" stroke-width="0.6"/>
<polygon points="873.3,656.1 1009,608.8 1009,399.8 873.3,447.1" fill="url(#g2)" stroke="url(#g2)" stroke-width="0.6"/>
<polygon points="769,385.1 873.3,447.1 1009,399.8 904.7,337.9" fill="#00b4d8"/>
<path d="M769 594.1 L873.3 656.1 L1009 608.8 L1009 399.8 L904.7 337.9 L769 385.1 Z M873.3 447.1 L873.3 656.1 M873.3 447.1 L1009 399.8 M873.3 447.1 L769 385.1" fill="none" stroke="#001018" stroke-opacity="0.56" stroke-width="3.5" stroke-linejoin="round" stroke-linecap="round"/>
<polygon points="599.4,653.2 703.7,715.2 703.7,401.7 599.4,339.7" fill="url(#g3)" stroke="url(#g3)" stroke-width="0.6"/>
<polygon points="703.7,715.2 839.4,667.9 839.4,354.4 703.7,401.7" fill="url(#g4)" stroke="url(#g4)" stroke-width="0.6"/>
<polygon points="599.4,339.7 703.7,401.7 839.4,354.4 735.1,292.5" fill="#28d058"/>
<path d="M599.4 653.2 L703.7 715.2 L839.4 667.9 L839.4 354.4 L735.1 292.5 L599.4 339.7 Z M703.7 401.7 L703.7 715.2 M703.7 401.7 L839.4 354.4 M703.7 401.7 L599.4 339.7" fill="none" stroke="#001018" stroke-opacity="0.56" stroke-width="3.5" stroke-linejoin="round" stroke-linecap="round"/>
<polygon points="429.8,712.3 534.1,774.3 534.1,462.1 429.8,400.1" fill="url(#g5)" stroke="url(#g5)" stroke-width="0.6"/>
<polygon points="534.1,774.3 669.8,727 669.8,414.8 534.1,462.1" fill="url(#g6)" stroke="url(#g6)" stroke-width="0.6"/>
<polygon points="429.8,400.1 534.1,462.1 669.8,414.8 565.5,352.9" fill="#20d058"/>
<path d="M429.8 712.3 L534.1 774.3 L669.8 727 L669.8 414.8 L565.5 352.9 L429.8 400.1 Z M534.1 462.1 L534.1 774.3 M534.1 462.1 L669.8 414.8 M534.1 462.1 L429.8 400.1" fill="none" stroke="#001018" stroke-opacity="0.56" stroke-width="3.5" stroke-linejoin="round" stroke-linecap="round"/>
<polygon points="260.2,771.4 364.5,833.4 364.5,625.9 260.2,564" fill="url(#g7)" stroke="url(#g7)" stroke-width="0.6"/>
<polygon points="364.5,833.4 500.2,786.1 500.2,578.6 364.5,625.9" fill="url(#g8)" stroke="url(#g8)" stroke-width="0.6"/>
<polygon points="260.2,564 364.5,625.9 500.2,578.6 395.9,516.7" fill="#00b4d8"/>
<path d="M260.2 771.4 L364.5 833.4 L500.2 786.1 L500.2 578.6 L395.9 516.7 L260.2 564 Z M364.5 625.9 L364.5 833.4 M364.5 625.9 L500.2 578.6 M364.5 625.9 L260.2 564" fill="none" stroke="#001018" stroke-opacity="0.56" stroke-width="3.5" stroke-linejoin="round" stroke-linecap="round"/>
<polygon points="899.4,671.5 1003.6,733.5 1003.6,416.3 899.4,354.4" fill="url(#g9)" stroke="url(#g9)" stroke-width="0.6"/>
<polygon points="1003.6,733.5 1139.3,686.2 1139.3,369 1003.6,416.3" fill="url(#g10)" stroke="url(#g10)" stroke-width="0.6"/>
<polygon points="899.4,354.4 1003.6,416.3 1139.3,369 1035,307.1" fill="#40d050"/>
<path d="M899.4 671.5 L1003.6 733.5 L1139.3 686.2 L1139.3 369 L1035 307.1 L899.4 354.4 Z M1003.6 416.3 L1003.6 733.5 M1003.6 416.3 L1139.3 369 M1003.6 416.3 L899.4 354.4" fill="none" stroke="#001018" stroke-opacity="0.56" stroke-width="3.5" stroke-linejoin="round" stroke-linecap="round"/>
<polygon points="729.8,730.6 834,792.6 834,330.1 729.8,268.2" fill="url(#g11)" stroke="url(#g11)" stroke-width="0.6"/>
<polygon points="834,792.6 969.7,745.3 969.7,282.9 834,330.1" fill="url(#g12)" stroke="url(#g12)" stroke-width="0.6"/>
<polygon points="729.8,268.2 834,330.1 969.7,282.9 865.4,220.9" fill="#f8f400"/>
<path d="M729.8 730.6 L834 792.6 L969.7 745.3 L969.7 282.9 L865.4 220.9 L729.8 268.2 Z M834 330.1 L834 792.6 M834 330.1 L969.7 282.9 M834 330.1 L729.8 268.2" fill="none" stroke="#001018" stroke-opacity="0.56" stroke-width="3.5" stroke-linejoin="round" stroke-linecap="round"/>
<polygon points="560.2,789.7 664.4,851.7 664.4,374.6 560.2,312.7" fill="url(#g13)" stroke="url(#g13)" stroke-width="0.6"/>
<polygon points="664.4,851.7 800.1,804.4 800.1,327.3 664.4,374.6" fill="url(#g14)" stroke="url(#g14)" stroke-width="0.6"/>
<polygon points="560.2,312.7 664.4,374.6 800.1,327.3 695.8,265.4" fill="#f8f400"/>
<path d="M560.2 789.7 L664.4 851.7 L800.1 804.4 L800.1 327.3 L695.8 265.4 L560.2 312.7 Z M664.4 374.6 L664.4 851.7 M664.4 374.6 L800.1 327.3 M664.4 374.6 L560.2 312.7" fill="none" stroke="#001018" stroke-opacity="0.56" stroke-width="3.5" stroke-linejoin="round" stroke-linecap="round"/>
<polygon points="390.6,848.8 494.8,910.8 494.8,592 390.6,530.1" fill="url(#g15)" stroke="url(#g15)" stroke-width="0.6"/>
<polygon points="494.8,910.8 630.5,863.5 630.5,544.8 494.8,592" fill="url(#g16)" stroke="url(#g16)" stroke-width="0.6"/>
<polygon points="390.6,530.1 494.8,592 630.5,544.8 526.2,482.8" fill="#58d048"/>
<path d="M390.6 848.8 L494.8 910.8 L630.5 863.5 L630.5 544.8 L526.2 482.8 L390.6 530.1 Z M494.8 592 L494.8 910.8 M494.8 592 L630.5 544.8 M494.8 592 L390.6 530.1" fill="none" stroke="#001018" stroke-opacity="0.56" stroke-width="3.5" stroke-linejoin="round" stroke-linecap="round"/>
<polygon points="1029.7,748.9 1134,810.9 1134,496.8 1029.7,434.9" fill="url(#g17)" stroke="url(#g17)" stroke-width="0.6"/>
<polygon points="1134,810.9 1269.7,763.6 1269.7,449.6 1134,496.8" fill="url(#g18)" stroke="url(#g18)" stroke-width="0.6"/>
<polygon points="1029.7,434.9 1134,496.8 1269.7,449.6 1165.4,387.6" fill="#30d058"/>
<path d="M1029.7 748.9 L1134 810.9 L1269.7 763.6 L1269.7 449.6 L1165.4 387.6 L1029.7 434.9 Z M1134 496.8 L1134 810.9 M1134 496.8 L1269.7 449.6 M1134 496.8 L1029.7 434.9" fill="none" stroke="#001018" stroke-opacity="0.56" stroke-width="3.5" stroke-linejoin="round" stroke-linecap="round"/>
<polygon points="860.1,808 964.4,870 964.4,404.9 860.1,343" fill="url(#g19)" stroke="url(#g19)" stroke-width="0.6"/>
<polygon points="964.4,870 1100.1,822.7 1100.1,357.7 964.4,404.9" fill="url(#g20)" stroke="url(#g20)" stroke-width="0.6"/>
<polygon points="860.1,343 964.4,404.9 1100.1,357.7 995.8,295.7" fill="#f8f400"/>
<path d="M860.1 808 L964.4 870 L1100.1 822.7 L1100.1 357.7 L995.8 295.7 L860.1 343 Z M964.4 404.9 L964.4 870 M964.4 404.9 L1100.1 357.7 M964.4 404.9 L860.1 343" fill="none" stroke="#001018" stroke-opacity="0.56" stroke-width="3.5" stroke-linejoin="round" stroke-linecap="round"/>
<polygon points="690.5,867.1 794.8,929.1 794.8,460.9 690.5,399" fill="url(#g21)" stroke="url(#g21)" stroke-width="0.6"/>
<polygon points="794.8,929.1 930.5,881.8 930.5,413.6 794.8,460.9" fill="url(#g22)" stroke="url(#g22)" stroke-width="0.6"/>
<polygon points="690.5,399 794.8,460.9 930.5,413.6 826.2,351.7" fill="#f8f400"/>
<path d="M690.5 867.1 L794.8 929.1 L930.5 881.8 L930.5 413.6 L826.2 351.7 L690.5 399 Z M794.8 460.9 L794.8 929.1 M794.8 460.9 L930.5 413.6 M794.8 460.9 L690.5 399" fill="none" stroke="#001018" stroke-opacity="0.56" stroke-width="3.5" stroke-linejoin="round" stroke-linecap="round"/>
<polygon points="520.9,926.2 625.2,988.2 625.2,680.9 520.9,619" fill="url(#g23)" stroke="url(#g23)" stroke-width="0.6"/>
<polygon points="625.2,988.2 760.9,940.9 760.9,633.7 625.2,680.9" fill="url(#g24)" stroke="url(#g24)" stroke-width="0.6"/>
<polygon points="520.9,619 625.2,680.9 760.9,633.7 656.6,571.7" fill="#00d060"/>
<path d="M520.9 926.2 L625.2 988.2 L760.9 940.9 L760.9 633.7 L656.6 571.7 L520.9 619 Z M625.2 680.9 L625.2 988.2 M625.2 680.9 L760.9 633.7 M625.2 680.9 L520.9 619" fill="none" stroke="#001018" stroke-opacity="0.56" stroke-width="3.5" stroke-linejoin="round" stroke-linecap="round"/>
<polygon points="1160.1,826.3 1264.3,888.3 1264.3,678.7 1160.1,616.8" fill="url(#g25)" stroke="url(#g25)" stroke-width="0.6"/>
<polygon points="1264.3,888.3 1400,841 1400,631.5 1264.3,678.7" fill="url(#g26)" stroke="url(#g26)" stroke-width="0.6"/>
<polygon points="1160.1,616.8 1264.3,678.7 1400,631.5 1295.7,569.5" fill="#00b4d8"/>
<path d="M1160.1 826.3 L1264.3 888.3 L1400 841 L1400 631.5 L1295.7 569.5 L1160.1 616.8 Z M1264.3 678.7 L1264.3 888.3 M1264.3 678.7 L1400 631.5 M1264.3 678.7 L1160.1 616.8" fill="none" stroke="#001018" stroke-opacity="0.56" stroke-width="3.5" stroke-linejoin="round" stroke-linecap="round"/>
<polygon points="990.5,885.4 1094.7,947.4 1094.7,633.3 990.5,571.4" fill="url(#g27)" stroke="url(#g27)" stroke-width="0.6"/>
<polygon points="1094.7,947.4 1230.4,900.1 1230.4,586.1 1094.7,633.3" fill="url(#g28)" stroke="url(#g28)" stroke-width="0.6"/>
<polygon points="990.5,571.4 1094.7,633.3 1230.4,586.1 1126.1,524.1" fill="#30d058"/>
<path d="M990.5 885.4 L1094.7 947.4 L1230.4 900.1 L1230.4 586.1 L1126.1 524.1 L990.5 571.4 Z M1094.7 633.3 L1094.7 947.4 M1094.7 633.3 L1230.4 586.1 M1094.7 633.3 L990.5 571.4" fill="none" stroke="#001018" stroke-opacity="0.56" stroke-width="3.5" stroke-linejoin="round" stroke-linecap="round"/>
<polygon points="820.9,944.5 925.1,1006.5 925.1,687.7 820.9,625.8" fill="url(#g29)" stroke="url(#g29)" stroke-width="0.6"/>
<polygon points="925.1,1006.5 1060.8,959.2 1060.8,640.5 925.1,687.7" fill="url(#g30)" stroke="url(#g30)" stroke-width="0.6"/>
<polygon points="820.9,625.8 925.1,687.7 1060.8,640.5 956.5,578.5" fill="#58d048"/>
<path d="M820.9 944.5 L925.1 1006.5 L1060.8 959.2 L1060.8 640.5 L956.5 578.5 L820.9 625.8 Z M925.1 687.7 L925.1 1006.5 M925.1 687.7 L1060.8 640.5 M925.1 687.7 L820.9 625.8" fill="none" stroke="#001018" stroke-opacity="0.56" stroke-width="3.5" stroke-linejoin="round" stroke-linecap="round"/>
<polygon points="651.3,1003.6 755.5,1065.6 755.5,859.2 651.3,797.3" fill="url(#g31)" stroke="url(#g31)" stroke-width="0.6"/>
<polygon points="755.5,1065.6 891.2,1018.3 891.2,811.9 755.5,859.2" fill="url(#g32)" stroke="url(#g32)" stroke-width="0.6"/>
<polygon points="651.3,797.3 755.5,859.2 891.2,811.9 786.9,750" fill="#00b4d8"/>
<path d="M651.3 1003.6 L755.5 1065.6 L891.2 1018.3 L891.2 811.9 L786.9 750 L651.3 797.3 Z M755.5 859.2 L755.5 1065.6 M755.5 859.2 L891.2 811.9 M755.5 859.2 L651.3 797.3" fill="none" stroke="#001018" stroke-opacity="0.56" stroke-width="3.5" stroke-linejoin="round" stroke-linecap="round"/>
<line x1="182" y1="725" x2="164.5" y2="714.2" stroke="#6c6c6c" stroke-width="2.3" />
<line x1="182" y1="620.5" x2="164.5" y2="609.7" stroke="#6c6c6c" stroke-width="2.3" />
<line x1="182" y1="516" x2="164.5" y2="505.2" stroke="#6c6c6c" stroke-width="2.3" />
<line x1="182" y1="411.5" x2="164.5" y2="400.7" stroke="#6c6c6c" stroke-width="2.3" />
<line x1="182" y1="307" x2="164.5" y2="296.2" stroke="#6c6c6c" stroke-width="2.3" />
<line x1="182" y1="202.5" x2="164.5" y2="191.7" stroke="#6c6c6c" stroke-width="2.3" />
<line x1="312.4" y1="802.4" x2="294.9" y2="810.4" stroke="#7c7c7c" stroke-width="1.9" />
<line x1="442.7" y1="879.8" x2="425.2" y2="887.8" stroke="#7c7c7c" stroke-width="1.9" />
<line x1="573" y1="957.2" x2="555.5" y2="965.2" stroke="#7c7c7c" stroke-width="1.9" />
<line x1="703.4" y1="1034.6" x2="685.9" y2="1042.6" stroke="#7c7c7c" stroke-width="1.9" />
<line x1="901.6" y1="1088.4" x2="917.1" y2="1098.1" stroke="#7c7c7c" stroke-width="1.9" />
<line x1="1071.2" y1="1029.3" x2="1086.7" y2="1039" stroke="#7c7c7c" stroke-width="1.9" />
<line x1="1240.8" y1="970.2" x2="1256.3" y2="979.9" stroke="#7c7c7c" stroke-width="1.9" />
<line x1="1410.4" y1="911.1" x2="1425.9" y2="920.8" stroke="#7c7c7c" stroke-width="1.9" />
<g font-family="'Liberation Sans',Arial,sans-serif" font-size="48" fill="#3d3d3d">
<text x="148.6" y="727.1" text-anchor="end" font-size="49">0</text>
<text x="148.6" y="622.6" text-anchor="end" font-size="49">0.02</text>
<text x="148.6" y="518.1" text-anchor="end" font-size="49">0.04</text>
<text x="148.6" y="413.6" text-anchor="end" font-size="49">0.06</text>
<text x="148.6" y="309.1" text-anchor="end" font-size="49">0.08</text>
<text x="148.6" y="204.6" text-anchor="end" font-size="49">0.1</text>
<text x="259.1" y="864.2" text-anchor="middle">1</text>
<text x="389.4" y="941.6" text-anchor="middle">2</text>
<text x="519.8" y="1019" text-anchor="middle">3</text>
<text x="650.1" y="1096.4" text-anchor="middle">4</text>
<text x="948" y="1155.2" text-anchor="middle">1</text>
<text x="1117.6" y="1096.1" text-anchor="middle">2</text>
<text x="1287.2" y="1037" text-anchor="middle">3</text>
<text x="1456.8" y="977.9" text-anchor="middle">4</text>
</g></g></g>
<text x="45.5" y="72" letter-spacing="1.5" font-family="'Liberation Serif','Times New Roman',serif" font-size="68" fill="#111" stroke="#111" stroke-width="0.7">(a)</text>
<g filter="url(#bl2)">
<clipPath id="cb"><rect x="88.4" y="1151.1" width="649.2" height="524.5"/></clipPath>
<line x1="92.6" y1="1154" x2="92.6" y2="1676" stroke="#dadada" stroke-width="3" stroke-opacity="1"/>
<line x1="91" y1="1674.5" x2="737" y2="1674.5" stroke="#d6d6d6" stroke-width="3" stroke-opacity="1"/>
<line x1="735.6" y1="1154" x2="735.6" y2="1676" stroke="#bababa" stroke-width="2.8" stroke-opacity="1"/>
<line x1="738.5" y1="1151.2" x2="738.5" y2="1678.6" stroke="#8c8c8c" stroke-width="3" stroke-opacity="1"/>
<line x1="89.7" y1="1151.2" x2="89.7" y2="1678.6" stroke="#4c4c4c" stroke-width="2.7" stroke-opacity="1"/>
<line x1="88.4" y1="1677.3" x2="740" y2="1677.3" stroke="#4c4c4c" stroke-width="2.7" stroke-opacity="1"/>
<line x1="88.4" y1="1152.6" x2="740" y2="1152.6" stroke="#484848" stroke-width="3" stroke-opacity="1"/>
<g clip-path="url(#cb)">
<polyline points="88.7,1663.6 110.3,1660.5 132,1656 153.6,1650 175.2,1643 196.9,1633.2 218.5,1622.4 240.1,1610.8 261.7,1596.3 283.4,1579.9 305,1560.8 326.6,1537.5 348.3,1512.1 369.9,1485.4 391.5,1456 413.1,1425 434.8,1389 456.4,1357.4 478,1327.5 499.7,1292.3 521.3,1262 542.9,1232.8 564.6,1206.7 586.2,1185.5 607.8,1171 629.5,1162.4 651.1,1157.8 672.7,1155.6 694.3,1154.8 716,1154.4 737.6,1154.2" fill="none" stroke="#c2c2c2" stroke-width="1.4"/>
<rect x="83.6" y="1658.5" width="10.2" height="10.2" fill="#404040"/>
<rect x="105.2" y="1655.4" width="10.2" height="10.2" fill="#404040"/>
<rect x="126.9" y="1650.9" width="10.2" height="10.2" fill="#404040"/>
<rect x="148.5" y="1644.9" width="10.2" height="10.2" fill="#404040"/>
<rect x="170.1" y="1637.9" width="10.2" height="10.2" fill="#404040"/>
<rect x="191.8" y="1628.1" width="10.2" height="10.2" fill="#404040"/>
<rect x="213.4" y="1617.3" width="10.2" height="10.2" fill="#404040"/>
<rect x="235" y="1605.7" width="10.2" height="10.2" fill="#404040"/>
<rect x="256.6" y="1591.2" width="10.2" height="10.2" fill="#404040"/>
<rect x="278.3" y="1574.8" width="10.2" height="10.2" fill="#404040"/>
<rect x="299.9" y="1555.7" width="10.2" height="10.2" fill="#404040"/>
<rect x="321.5" y="1532.4" width="10.2" height="10.2" fill="#404040"/>
<rect x="343.2" y="1507" width="10.2" height="10.2" fill="#404040"/>
<rect x="364.8" y="1480.3" width="10.2" height="10.2" fill="#404040"/>
<rect x="386.4" y="1450.9" width="10.2" height="10.2" fill="#404040"/>
<rect x="408" y="1419.9" width="10.2" height="10.2" fill="#404040"/>
<rect x="429.7" y="1383.9" width="10.2" height="10.2" fill="#404040"/>
<rect x="451.3" y="1352.3" width="10.2" height="10.2" fill="#404040"/>
<rect x="472.9" y="1322.4" width="10.2" height="10.2" fill="#404040"/>
<rect x="494.6" y="1287.2" width="10.2" height="10.2" fill="#404040"/>
<rect x="516.2" y="1256.9" width="10.2" height="10.2" fill="#404040"/>
<rect x="537.8" y="1227.7" width="10.2" height="10.2" fill="#404040"/>
<rect x="559.5" y="1201.6" width="10.2" height="10.2" fill="#404040"/>
<rect x="581.1" y="1180.4" width="10.2" height="10.2" fill="#404040"/>
<rect x="602.7" y="1165.9" width="10.2" height="10.2" fill="#404040"/>
<rect x="624.4" y="1157.3" width="10.2" height="10.2" fill="#404040"/>
<rect x="646" y="1152.7" width="10.2" height="10.2" fill="#404040"/>
<rect x="667.6" y="1150.5" width="10.2" height="10.2" fill="#404040"/>
<rect x="689.2" y="1149.7" width="10.2" height="10.2" fill="#404040"/>
<rect x="710.9" y="1149.3" width="10.2" height="10.2" fill="#404040"/>
<rect x="732.5" y="1149.1" width="10.2" height="10.2" fill="#404040"/>
<polyline points="88.7,1655.8 110.3,1652.8 132,1648.5 153.6,1643.4 175.2,1636.5 196.9,1626.7 218.5,1617.3 240.1,1604.9 261.7,1589.7 283.4,1573.4 305,1553.9 326.6,1527.3 348.3,1499.9 369.9,1472.3 391.5,1445.1 413.1,1408.2 434.8,1376.4 456.4,1342.5 478,1310.7 499.7,1277.4 521.3,1245.8 542.9,1218.2 564.6,1192.8 586.2,1176.3 607.8,1164.8 629.5,1159.5 651.1,1156.1 672.7,1155 694.3,1154.5 716,1154.3 737.6,1154.1" fill="none" stroke="#ffb4b4" stroke-width="1.4"/>
<circle cx="88.7" cy="1655.8" r="5.7" fill="#fa3237"/>
<circle cx="110.3" cy="1652.8" r="5.7" fill="#fa3237"/>
<circle cx="132" cy="1648.5" r="5.7" fill="#fa3237"/>
<circle cx="153.6" cy="1643.4" r="5.7" fill="#fa3237"/>
<circle cx="175.2" cy="1636.5" r="5.7" fill="#fa3237"/>
<circle cx="196.9" cy="1626.7" r="5.7" fill="#fa3237"/>
<circle cx="218.5" cy="1617.3" r="5.7" fill="#fa3237"/>
<circle cx="240.1" cy="1604.9" r="5.7" fill="#fa3237"/>
<circle cx="261.7" cy="1589.7" r="5.7" fill="#fa3237"/>
<circle cx="283.4" cy="1573.4" r="5.7" fill="#fa3237"/>
<circle cx="305" cy="1553.9" r="5.7" fill="#fa3237"/>
<circle cx="326.6" cy="1527.3" r="5.7" fill="#fa3237"/>
<circle cx="348.3" cy="1499.9" r="5.7" fill="#fa3237"/>
<circle cx="369.9" cy="1472.3" r="5.7" fill="#fa3237"/>
<circle cx="391.5" cy="1445.1" r="5.7" fill="#fa3237"/>
<circle cx="413.1" cy="1408.2" r="5.7" fill="#fa3237"/>
<circle cx="434.8" cy="1376.4" r="5.7" fill="#fa3237"/>
<circle cx="456.4" cy="1342.5" r="5.7" fill="#fa3237"/>
<circle cx="478" cy="1310.7" r="5.7" fill="#fa3237"/>
<circle cx="499.7" cy="1277.4" r="5.7" fill="#fa3237"/>
<circle cx="521.3" cy="1245.8" r="5.7" fill="#fa3237"/>
<circle cx="542.9" cy="1218.2" r="5.7" fill="#fa3237"/>
<circle cx="564.6" cy="1192.8" r="5.7" fill="#fa3237"/>
<circle cx="586.2" cy="1176.3" r="5.7" fill="#fa3237"/>
<circle cx="607.8" cy="1164.8" r="5.7" fill="#fa3237"/>
<circle cx="629.5" cy="1159.5" r="5.7" fill="#fa3237"/>
<circle cx="651.1" cy="1156.1" r="5.7" fill="#fa3237"/>
<circle cx="672.7" cy="1155" r="5.7" fill="#fa3237"/>
<circle cx="694.3" cy="1154.5" r="5.7" fill="#fa3237"/>
<circle cx="716" cy="1154.3" r="5.7" fill="#fa3237"/>
<circle cx="737.6" cy="1154.1" r="5.7" fill="#fa3237"/>
<polyline points="88.7,1578.2 110.3,1571.3 132,1567.3 153.6,1562.1 175.2,1554.3 196.9,1543.4 218.5,1532.1 240.1,1519.1 261.7,1506 283.4,1485.4 305,1464.7 326.6,1438.2 348.3,1408.5 369.9,1383.8 391.5,1349.9 413.1,1320.7 434.8,1288.4 456.4,1257.3 478,1228.1 499.7,1202.5 521.3,1183.7 542.9,1168.6 564.6,1159.5 586.2,1155.6 607.8,1154.5 629.5,1154.3 651.1,1154 672.7,1154 694.3,1154 716,1154 737.6,1154" fill="none" stroke="#a8cdfb" stroke-width="1.4"/>
<polygon points="88.7,1570.6 95.7,1582.8 81.7,1582.8" fill="#0a6fe6"/>
<polygon points="110.3,1563.7 117.3,1575.9 103.3,1575.9" fill="#0a6fe6"/>
<polygon points="132,1559.8 139,1572 125,1572" fill="#0a6fe6"/>
<polygon points="153.6,1554.5 160.6,1566.7 146.6,1566.7" fill="#0a6fe6"/>
<polygon points="175.2,1546.7 182.2,1558.9 168.2,1558.9" fill="#0a6fe6"/>
<polygon points="196.9,1535.9 203.9,1548.1 189.9,1548.1" fill="#0a6fe6"/>
<polygon points="218.5,1524.5 225.5,1536.7 211.5,1536.7" fill="#0a6fe6"/>
<polygon points="240.1,1511.6 247.1,1523.8 233.1,1523.8" fill="#0a6fe6"/>
<polygon points="261.7,1498.4 268.7,1510.6 254.7,1510.6" fill="#0a6fe6"/>
<polygon points="283.4,1477.8 290.4,1490 276.4,1490" fill="#0a6fe6"/>
<polygon points="305,1457.1 312,1469.3 298,1469.3" fill="#0a6fe6"/>
<polygon points="326.6,1430.6 333.6,1442.8 319.6,1442.8" fill="#0a6fe6"/>
<polygon points="348.3,1401 355.3,1413.2 341.3,1413.2" fill="#0a6fe6"/>
<polygon points="369.9,1376.3 376.9,1388.5 362.9,1388.5" fill="#0a6fe6"/>
<polygon points="391.5,1342.3 398.5,1354.5 384.5,1354.5" fill="#0a6fe6"/>
<polygon points="413.1,1313.1 420.1,1325.3 406.1,1325.3" fill="#0a6fe6"/>
<polygon points="434.8,1280.9 441.8,1293.1 427.8,1293.1" fill="#0a6fe6"/>
<polygon points="456.4,1249.7 463.4,1261.9 449.4,1261.9" fill="#0a6fe6"/>
<polygon points="478,1220.5 485,1232.7 471,1232.7" fill="#0a6fe6"/>
<polygon points="499.7,1194.9 506.7,1207.1 492.7,1207.1" fill="#0a6fe6"/>
<polygon points="521.3,1176.2 528.3,1188.4 514.3,1188.4" fill="#0a6fe6"/>
<polygon points="542.9,1161 549.9,1173.2 535.9,1173.2" fill="#0a6fe6"/>
<polygon points="564.6,1151.9 571.6,1164.1 557.6,1164.1" fill="#0a6fe6"/>
<polygon points="586.2,1148 593.2,1160.2 579.2,1160.2" fill="#0a6fe6"/>
<polygon points="607.8,1147 614.8,1159.2 600.8,1159.2" fill="#0a6fe6"/>
<polygon points="629.5,1146.7 636.5,1158.9 622.5,1158.9" fill="#0a6fe6"/>
<polygon points="651.1,1146.4 658.1,1158.6 644.1,1158.6" fill="#0a6fe6"/>
<polygon points="672.7,1146.4 679.7,1158.6 665.7,1158.6" fill="#0a6fe6"/>
<polygon points="694.3,1146.4 701.3,1158.6 687.3,1158.6" fill="#0a6fe6"/>
<polygon points="716,1146.4 723,1158.6 709,1158.6" fill="#0a6fe6"/>
<polygon points="737.6,1146.4 744.6,1158.6 730.6,1158.6" fill="#0a6fe6"/>
</g>
<line x1="88.4" y1="1152.6" x2="740" y2="1152.6" stroke="#484848" stroke-width="3" stroke-opacity="0.7"/>
<line x1="88.4" y1="1623.4" x2="95" y2="1623.4" stroke="#4a4a4a" stroke-width="2"/>
<line x1="88.4" y1="1571.3" x2="100" y2="1571.3" stroke="#4a4a4a" stroke-width="2"/>
<line x1="88.4" y1="1519.1" x2="95" y2="1519.1" stroke="#4a4a4a" stroke-width="2"/>
<line x1="88.4" y1="1467" x2="100" y2="1467" stroke="#4a4a4a" stroke-width="2"/>
<line x1="88.4" y1="1414.8" x2="95" y2="1414.8" stroke="#4a4a4a" stroke-width="2"/>
<line x1="88.4" y1="1362.6" x2="100" y2="1362.6" stroke="#4a4a4a" stroke-width="2"/>
<line x1="88.4" y1="1310.5" x2="95" y2="1310.5" stroke="#4a4a4a" stroke-width="2"/>
<line x1="88.4" y1="1258.3" x2="100" y2="1258.3" stroke="#4a4a4a" stroke-width="2"/>
<line x1="88.4" y1="1206.2" x2="95" y2="1206.2" stroke="#4a4a4a" stroke-width="2"/>
<line x1="196.9" y1="1675.6" x2="196.9" y2="1670.6" stroke="#4a4a4a" stroke-width="2"/>
<line x1="305" y1="1675.6" x2="305" y2="1665.6" stroke="#4a4a4a" stroke-width="2"/>
<line x1="413.1" y1="1675.6" x2="413.1" y2="1670.6" stroke="#4a4a4a" stroke-width="2"/>
<line x1="521.3" y1="1675.6" x2="521.3" y2="1665.6" stroke="#4a4a4a" stroke-width="2"/>
<line x1="629.5" y1="1675.6" x2="629.5" y2="1670.6" stroke="#4a4a4a" stroke-width="2"/>
<g font-family="'Liberation Serif','Times New Roman',serif" font-size="23.5" fill="#5a5a62"><text x="80" y="1683.1" text-anchor="end">0.0</text><text x="80" y="1578.8" text-anchor="end">0.2</text><text x="80" y="1474.5" text-anchor="end">0.4</text><text x="80" y="1370.1" text-anchor="end">0.6</text><text x="80" y="1265.8" text-anchor="end">0.8</text><text x="80" y="1161.5" text-anchor="end">1.0</text><text x="90.2" y="1706" text-anchor="middle">-10</text><text x="306.5" y="1706" text-anchor="middle">0</text><text x="522.8" y="1706" text-anchor="middle">10</text><text x="737.6" y="1706" text-anchor="middle">20</text></g>
<text x="413" y="1748" text-anchor="middle" font-family="'Liberation Serif','Times New Roman',serif" font-size="26" fill="#3c3c44">SNR</text>
<text transform="translate(40.5 1414.5) rotate(-90)" text-anchor="middle" font-family="'Liberation Serif','Times New Roman',serif" font-size="25.5" fill="#3c3c44">NGMI</text>
<g font-family="'Liberation Serif','Times New Roman',serif"><line x1="439.6" y1="1540" x2="501.6" y2="1540" stroke="#c2c2c2" stroke-width="1.6"/><rect x="465.5" y="1534.9" width="10.2" height="10.2" fill="#404040"/><text x="509" y="1549.2" font-size="27.8" fill="#7a7a7a">Uniform 16QAM</text><line x1="439.6" y1="1574.6" x2="501.6" y2="1574.6" stroke="#ffb4b4" stroke-width="1.6"/><circle cx="470.6" cy="1574.6" r="5.7" fill="#fa3237"/><text x="509" y="1583.8" font-size="27.8" fill="#fb5560">RNN 16QAM</text><line x1="439.6" y1="1609" x2="501.6" y2="1609" stroke="#a8cdfb" stroke-width="1.6"/><polygon points="470.6,1601.4 477.6,1613.6 463.6,1613.6" fill="#0a6fe6"/><text x="509" y="1618.2" font-size="27.8" fill="#2a84ee">M-B 16QAM</text></g>
<polyline points="959.5,1624 985.6,1602.2 1011.8,1580.3 1037.9,1558.5 1064,1536.7 1090.1,1514.8 1116.2,1493 1142.4,1471.1 1168.5,1449.3 1194.6,1427.4 1220.8,1405.6 1246.9,1383.7 1273,1361.9 1299.1,1340.1 1325.2,1318.2 1351.4,1296.4 1377.5,1274.5 1403.6,1252.7 1429.8,1230.8 1455.9,1209 1482,1187.1" fill="none" stroke="#c2c2c2" stroke-width="1.4"/>
<rect x="954.4" y="1618.9" width="10.2" height="10.2" fill="#404040"/>
<rect x="980.5" y="1597.1" width="10.2" height="10.2" fill="#404040"/>
<rect x="1006.6" y="1575.2" width="10.2" height="10.2" fill="#404040"/>
<rect x="1032.8" y="1553.4" width="10.2" height="10.2" fill="#404040"/>
<rect x="1058.9" y="1531.6" width="10.2" height="10.2" fill="#404040"/>
<rect x="1085" y="1509.7" width="10.2" height="10.2" fill="#404040"/>
<rect x="1111.2" y="1487.9" width="10.2" height="10.2" fill="#404040"/>
<rect x="1137.3" y="1466" width="10.2" height="10.2" fill="#404040"/>
<rect x="1163.4" y="1444.2" width="10.2" height="10.2" fill="#404040"/>
<rect x="1189.5" y="1422.3" width="10.2" height="10.2" fill="#404040"/>
<rect x="1215.7" y="1400.5" width="10.2" height="10.2" fill="#404040"/>
<rect x="1241.8" y="1378.6" width="10.2" height="10.2" fill="#404040"/>
<rect x="1267.9" y="1356.8" width="10.2" height="10.2" fill="#404040"/>
<rect x="1294" y="1335" width="10.2" height="10.2" fill="#404040"/>
<rect x="1320.2" y="1313.1" width="10.2" height="10.2" fill="#404040"/>
<rect x="1346.3" y="1291.3" width="10.2" height="10.2" fill="#404040"/>
<rect x="1372.4" y="1269.4" width="10.2" height="10.2" fill="#404040"/>
<rect x="1398.5" y="1247.6" width="10.2" height="10.2" fill="#404040"/>
<rect x="1424.7" y="1225.7" width="10.2" height="10.2" fill="#404040"/>
<rect x="1450.8" y="1203.9" width="10.2" height="10.2" fill="#404040"/>
<rect x="1476.9" y="1182" width="10.2" height="10.2" fill="#404040"/>
<polyline points="959.5,1625.7 985.6,1604.2 1011.8,1582.7 1037.9,1561.2 1064,1539.7 1090.1,1518.2 1116.2,1496.7 1142.4,1475.2 1168.5,1453.7 1194.6,1432.2 1220.8,1410.7 1246.9,1389.2 1273,1367.7 1299.1,1346.2 1325.2,1324.7 1351.4,1303.2 1377.5,1281.7 1403.6,1260.2 1429.8,1238.6 1455.9,1217.1 1482,1195.6" fill="none" stroke="#ffb4b4" stroke-width="1.4"/>
<circle cx="959.5" cy="1625.7" r="5.7" fill="#fa3237"/>
<circle cx="985.6" cy="1604.2" r="5.7" fill="#fa3237"/>
<circle cx="1011.8" cy="1582.7" r="5.7" fill="#fa3237"/>
<circle cx="1037.9" cy="1561.2" r="5.7" fill="#fa3237"/>
<circle cx="1064" cy="1539.7" r="5.7" fill="#fa3237"/>
<circle cx="1090.1" cy="1518.2" r="5.7" fill="#fa3237"/>
<circle cx="1116.2" cy="1496.7" r="5.7" fill="#fa3237"/>
<circle cx="1142.4" cy="1475.2" r="5.7" fill="#fa3237"/>
<circle cx="1168.5" cy="1453.7" r="5.7" fill="#fa3237"/>
<circle cx="1194.6" cy="1432.2" r="5.7" fill="#fa3237"/>
<circle cx="1220.8" cy="1410.7" r="5.7" fill="#fa3237"/>
<circle cx="1246.9" cy="1389.2" r="5.7" fill="#fa3237"/>
<circle cx="1273" cy="1367.7" r="5.7" fill="#fa3237"/>
<circle cx="1299.1" cy="1346.2" r="5.7" fill="#fa3237"/>
<circle cx="1325.2" cy="1324.7" r="5.7" fill="#fa3237"/>
<circle cx="1351.4" cy="1303.2" r="5.7" fill="#fa3237"/>
<circle cx="1377.5" cy="1281.7" r="5.7" fill="#fa3237"/>
<circle cx="1403.6" cy="1260.2" r="5.7" fill="#fa3237"/>
<circle cx="1429.8" cy="1238.6" r="5.7" fill="#fa3237"/>
<circle cx="1455.9" cy="1217.1" r="5.7" fill="#fa3237"/>
<circle cx="1482" cy="1195.6" r="5.7" fill="#fa3237"/>
<polyline points="959.5,1629.9 985.6,1609.2 1011.8,1588.6 1037.9,1567.9 1064,1547.2 1090.1,1526.5 1116.2,1505.9 1142.4,1485.2 1168.5,1464.5 1194.6,1443.9 1220.8,1423.2 1246.9,1402.5 1273,1381.8 1299.1,1361.2 1325.2,1340.5 1351.4,1319.8 1377.5,1299.2 1403.6,1278.5 1429.8,1257.8 1455.9,1237.2 1482,1216.5" fill="none" stroke="#a8cdfb" stroke-width="1.4"/>
<polygon points="959.5,1622.3 966.5,1634.5 952.5,1634.5" fill="#0a6fe6"/>
<polygon points="985.6,1601.7 992.6,1613.9 978.6,1613.9" fill="#0a6fe6"/>
<polygon points="1011.8,1581 1018.8,1593.2 1004.8,1593.2" fill="#0a6fe6"/>
<polygon points="1037.9,1560.3 1044.9,1572.5 1030.9,1572.5" fill="#0a6fe6"/>
<polygon points="1064,1539.6 1071,1551.8 1057,1551.8" fill="#0a6fe6"/>
<polygon points="1090.1,1519 1097.1,1531.2 1083.1,1531.2" fill="#0a6fe6"/>
<polygon points="1116.2,1498.3 1123.2,1510.5 1109.2,1510.5" fill="#0a6fe6"/>
<polygon points="1142.4,1477.6 1149.4,1489.8 1135.4,1489.8" fill="#0a6fe6"/>
<polygon points="1168.5,1457 1175.5,1469.2 1161.5,1469.2" fill="#0a6fe6"/>
<polygon points="1194.6,1436.3 1201.6,1448.5 1187.6,1448.5" fill="#0a6fe6"/>
<polygon points="1220.8,1415.6 1227.8,1427.8 1213.8,1427.8" fill="#0a6fe6"/>
<polygon points="1246.9,1395 1253.9,1407.2 1239.9,1407.2" fill="#0a6fe6"/>
<polygon points="1273,1374.3 1280,1386.5 1266,1386.5" fill="#0a6fe6"/>
<polygon points="1299.1,1353.6 1306.1,1365.8 1292.1,1365.8" fill="#0a6fe6"/>
<polygon points="1325.2,1332.9 1332.2,1345.1 1318.2,1345.1" fill="#0a6fe6"/>
<polygon points="1351.4,1312.3 1358.4,1324.5 1344.4,1324.5" fill="#0a6fe6"/>
<polygon points="1377.5,1291.6 1384.5,1303.8 1370.5,1303.8" fill="#0a6fe6"/>
<polygon points="1403.6,1270.9 1410.6,1283.1 1396.6,1283.1" fill="#0a6fe6"/>
<polygon points="1429.8,1250.3 1436.8,1262.5 1422.8,1262.5" fill="#0a6fe6"/>
<polygon points="1455.9,1229.6 1462.9,1241.8 1448.9,1241.8" fill="#0a6fe6"/>
<polygon points="1482,1208.9 1489,1221.1 1475,1221.1" fill="#0a6fe6"/>
<line x1="896.2" y1="1148" x2="896.2" y2="1670" stroke="#d2d2d2" stroke-width="1.8" stroke-opacity="1"/>
<line x1="892" y1="1674.3" x2="1548" y2="1674.3" stroke="#dadada" stroke-width="2.7" stroke-opacity="1"/>
<line x1="1545.9" y1="1145.7" x2="1545.9" y2="1673" stroke="#919191" stroke-width="5.7" stroke-opacity="1"/>
<line x1="893.7" y1="1145.7" x2="893.7" y2="1673" stroke="#3a3a3a" stroke-width="3.2" stroke-opacity="1"/>
<line x1="892.1" y1="1671.4" x2="1548.7" y2="1671.4" stroke="#3a3a3a" stroke-width="3.1" stroke-opacity="1"/>
<line x1="892.1" y1="1147" x2="1548.7" y2="1147" stroke="#303030" stroke-width="2.7" stroke-opacity="1"/>
<line x1="894" y1="1671.5" x2="904" y2="1671.5" stroke="#4a4a4a" stroke-width="2"/>
<line x1="894" y1="1640.6" x2="899" y2="1640.6" stroke="#4a4a4a" stroke-width="2"/>
<line x1="894" y1="1609.8" x2="904" y2="1609.8" stroke="#4a4a4a" stroke-width="2"/>
<line x1="894" y1="1578.9" x2="899" y2="1578.9" stroke="#4a4a4a" stroke-width="2"/>
<line x1="894" y1="1548" x2="904" y2="1548" stroke="#4a4a4a" stroke-width="2"/>
<line x1="894" y1="1517.1" x2="899" y2="1517.1" stroke="#4a4a4a" stroke-width="2"/>
<line x1="894" y1="1486.2" x2="904" y2="1486.2" stroke="#4a4a4a" stroke-width="2"/>
<line x1="894" y1="1455.4" x2="899" y2="1455.4" stroke="#4a4a4a" stroke-width="2"/>
<line x1="894" y1="1424.5" x2="904" y2="1424.5" stroke="#4a4a4a" stroke-width="2"/>
<line x1="894" y1="1393.6" x2="899" y2="1393.6" stroke="#4a4a4a" stroke-width="2"/>
<line x1="894" y1="1362.8" x2="904" y2="1362.8" stroke="#4a4a4a" stroke-width="2"/>
<line x1="894" y1="1331.9" x2="899" y2="1331.9" stroke="#4a4a4a" stroke-width="2"/>
<line x1="894" y1="1301" x2="904" y2="1301" stroke="#4a4a4a" stroke-width="2"/>
<line x1="894" y1="1270.1" x2="899" y2="1270.1" stroke="#4a4a4a" stroke-width="2"/>
<line x1="894" y1="1239.2" x2="904" y2="1239.2" stroke="#4a4a4a" stroke-width="2"/>
<line x1="894" y1="1208.4" x2="899" y2="1208.4" stroke="#4a4a4a" stroke-width="2"/>
<line x1="894" y1="1177.5" x2="904" y2="1177.5" stroke="#4a4a4a" stroke-width="2"/>
<line x1="959.5" y1="1671.5" x2="959.5" y2="1661.5" stroke="#4a4a4a" stroke-width="2"/>
<line x1="1024.8" y1="1671.5" x2="1024.8" y2="1666.5" stroke="#4a4a4a" stroke-width="2"/>
<line x1="1090.1" y1="1671.5" x2="1090.1" y2="1661.5" stroke="#4a4a4a" stroke-width="2"/>
<line x1="1155.4" y1="1671.5" x2="1155.4" y2="1666.5" stroke="#4a4a4a" stroke-width="2"/>
<line x1="1220.8" y1="1671.5" x2="1220.8" y2="1661.5" stroke="#4a4a4a" stroke-width="2"/>
<line x1="1286.1" y1="1671.5" x2="1286.1" y2="1666.5" stroke="#4a4a4a" stroke-width="2"/>
<line x1="1351.4" y1="1671.5" x2="1351.4" y2="1661.5" stroke="#4a4a4a" stroke-width="2"/>
<line x1="1416.7" y1="1671.5" x2="1416.7" y2="1666.5" stroke="#4a4a4a" stroke-width="2"/>
<line x1="1482" y1="1671.5" x2="1482" y2="1661.5" stroke="#4a4a4a" stroke-width="2"/>
<g font-family="'Liberation Serif','Times New Roman',serif" font-size="23.5" fill="#5a5a62"><text x="884" y="1678.3" text-anchor="end">2</text><text x="884" y="1616.5" text-anchor="end">4</text><text x="884" y="1554.8" text-anchor="end">6</text><text x="884" y="1493" text-anchor="end">8</text><text x="884" y="1431.3" text-anchor="end">10</text><text x="884" y="1369.5" text-anchor="end">12</text><text x="884" y="1307.8" text-anchor="end">14</text><text x="884" y="1246" text-anchor="end">16</text><text x="884" y="1184.3" text-anchor="end">18</text><text x="959.5" y="1701" text-anchor="middle">5</text><text x="1090.1" y="1701" text-anchor="middle">10</text><text x="1220.8" y="1701" text-anchor="middle">15</text><text x="1351.4" y="1701" text-anchor="middle">20</text><text x="1482" y="1701" text-anchor="middle">25</text></g>
<text x="1220" y="1744" text-anchor="middle" font-family="'Liberation Serif','Times New Roman',serif" font-size="27.6" fill="#3c3c44">AWG_sampling_rate</text>
<text transform="translate(848 1409) rotate(-90)" text-anchor="middle" font-family="'Liberation Serif','Times New Roman',serif" font-size="27" fill="#3c3c44">Net bit rate</text>
<g font-family="'Liberation Serif','Times New Roman',serif"><line x1="1251" y1="1522" x2="1313" y2="1522" stroke="#c2c2c2" stroke-width="1.6"/><rect x="1276.9" y="1516.9" width="10.2" height="10.2" fill="#404040"/><text x="1318" y="1531" font-size="27.3" fill="#7a7a7a">Uniform 16QAM</text><line x1="1251" y1="1555.5" x2="1313" y2="1555.5" stroke="#ffb4b4" stroke-width="1.6"/><circle cx="1282" cy="1555.5" r="5.7" fill="#fa3237"/><text x="1318" y="1564.5" font-size="27.3" fill="#fb5560">RNN 16QAM</text><line x1="1251" y1="1589" x2="1313" y2="1589" stroke="#a8cdfb" stroke-width="1.6"/><polygon points="1282,1581.4 1289,1593.6 1275,1593.6" fill="#0a6fe6"/><text x="1318" y="1598" font-size="27.3" fill="#2a84ee">M-B 16QAM</text></g>
</g>
<text x="108.5" y="1214.5" letter-spacing="1.5" font-family="'Liberation Serif','Times New Roman',serif" font-size="68" fill="#111" stroke="#111" stroke-width="0.5">(b)</text>
<text x="930" y="1213.4" letter-spacing="1.5" font-family="'Liberation Serif','Times New Roman',serif" font-size="68" fill="#111" stroke="#111" stroke-width="0.5">(c)</text>
</svg>
</body></html>
